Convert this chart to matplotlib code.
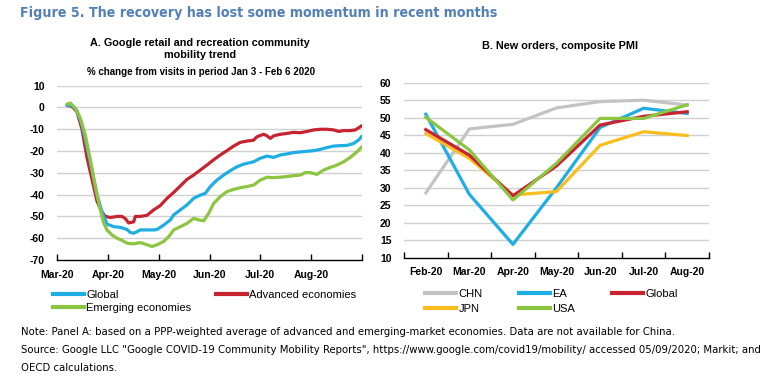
import matplotlib
matplotlib.use("Agg")
import matplotlib.pyplot as plt
from matplotlib.lines import Line2D

# ---------------- Panel A data (days since 1 March 2020) ----------------
adv_days = [6, 9, 12, 15, 18, 21, 24, 27, 29, 32, 36, 39, 41, 43, 46, 47, 50, 54, 58, 62,
            66, 70, 74, 78, 82, 86, 90, 94, 98, 102, 106, 110, 114, 118, 120, 124, 126, 128, 130, 134,
            138, 142, 146, 150, 154, 158, 162, 166, 169, 172, 176, 179, 182, 183]
adv_vals = [1, 0.5, -2, -10, -23, -33, -43, -48, -50, -50.5, -50, -50, -51, -53, -52.5, -50, -50, -49.5, -47, -45,
            -41.7, -39, -36, -33, -31, -28.7, -26.4, -24, -21.8, -19.8, -17.7, -16, -15.4, -15, -13.4, -12.3, -13, -14.2, -13, -12.3,
            -11.9, -11.4, -11.6, -11, -10.3, -10, -10, -10.3, -11, -10.6, -10.6, -10.3, -8.8, -8.3]

glob_days = [6, 9, 12, 15, 18, 21, 24, 27, 29, 30, 34, 38, 42, 44, 46, 48, 50, 54, 58, 60,
             64, 68, 70, 74, 78, 82, 86, 89, 92, 96, 100, 104, 108, 112, 118, 122, 126, 130, 134, 138,
             142, 146, 150, 154, 158, 162, 166, 170, 174, 178, 181, 183]
glob_vals = [1, 1, -1.5, -8, -18, -29, -40, -48, -51.6, -53.5, -54.7, -55, -56, -57.4, -57.7, -57, -56.2, -56.2, -56.2, -56,
             -54, -51.6, -49.3, -47, -44.7, -41.7, -40.2, -39.4, -36.3, -33.3, -31, -29, -27.2, -26, -24.9, -23.3, -22.3, -22.9, -21.8, -21.3,
             -20.7, -20.4, -20.1, -19.8, -19.2, -18.4, -17.7, -17.5, -17.4, -16.5, -14.9, -13.1]

emg_days = [6, 8, 11, 14, 17, 20, 23, 26, 28, 30, 33, 36, 39, 42, 46, 50, 54, 57, 60, 64,
            67, 70, 74, 78, 82, 85, 88, 91, 94, 98, 102, 106, 110, 114, 118, 122, 126, 130, 134, 138,
            142, 146, 149, 152, 156, 160, 164, 168, 172, 176, 180, 183]
emg_vals = [1.6, 2, -0.4, -5, -12.6, -24, -36.3, -47, -53, -56.2, -58.5, -60, -61, -62.3, -62.6, -62, -63, -63.8, -63, -61.5,
            -59.3, -56.2, -54.7, -53.2, -50.9, -51.6, -52, -48.6, -44, -40.9, -38.6, -37.6, -36.8, -36.3, -35.6, -33.3, -32, -32.2, -32, -31.7,
            -31.3, -31, -29.9, -29.9, -30.7, -28.7, -27.5, -26.4, -24.9, -22.9, -20.3, -18]

a_month_labels = ["Mar-20", "Apr-20", "May-20", "Jun-20", "Jul-20", "Aug-20"]
a_yticks = [10, 0, -10, -20, -30, -40, -50, -60, -70]

# ---------------- Panel B data ----------------
b_months = ["Feb-20", "Mar-20", "Apr-20", "May-20", "Jun-20", "Jul-20", "Aug-20"]
chn = [28.5, 46.8, 48.1, 52.8, 54.6, 55.0, 53.6]
ea = [51.0, 28.1, 13.8, 30.0, 47.2, 52.7, 51.2]
glb = [46.6, 39.3, 27.7, 36.2, 47.9, 50.4, 51.7]
jpn = [45.5, 38.4, 27.9, 28.9, 42.1, 46.0, 44.9]
usa = [50.1, 40.8, 26.5, 37.0, 49.8, 49.8, 53.7]
b_yticks = [10, 15, 20, 25, 30, 35, 40, 45, 50, 55, 60]

# ---------------- style ----------------
C_BLUE = "#1eaee4"
C_RED = "#c82330"
C_GREEN = "#8cc540"
C_GREY = "#c3c3c3"
C_YEL = "#f9be1d"
TITLE_C = "#5280b7"
SANS = ["Liberation Sans", "DejaVu Sans"]
plt.rcParams["font.family"] = SANS
LW = 2.3

W, H = 777, 382
fig = plt.figure(figsize=(W / 100, H / 100), dpi=100)


def fx(px):
    return px / W


def fy(py):
    return 1 - py / H


fig.text(fx(20), fy(12.5), "Figure 5. The recovery has lost some momentum in recent months",
         color=TITLE_C, fontsize=10.2, fontweight="bold", family=["DejaVu Sans"], fontstretch="condensed",
         va="center", ha="left")

# ---- Panel A ----
MONTH = 30.5
axA = fig.add_axes([fx(57), fy(260), fx(362) - fx(57), fy(85.7) - fy(260)])
axA.plot(glob_days, glob_vals, color=C_BLUE, lw=LW, solid_capstyle="round", zorder=3)
axA.plot(emg_days, emg_vals, color=C_GREEN, lw=LW, solid_capstyle="round", zorder=4)
axA.plot(adv_days, adv_vals, color=C_RED, lw=LW, solid_capstyle="round", zorder=2)
axA.set_xlim(0, 6 * MONTH)
axA.set_ylim(-70, 10)
axA.set_yticks(a_yticks)
axA.set_yticklabels([str(v) for v in a_yticks])
axA.set_xticks([i * MONTH for i in range(7)])
axA.set_xticklabels(a_month_labels + [""])
for v in a_yticks[:-1]:
    axA.axhline(v, color="#d0d0d0", lw=1.0, zorder=1)

fig.text(fx(200), fy(49), "A. Google retail and recreation community\nmobility trend",
         ha="center", va="center", fontsize=7.8, fontweight="bold", linespacing=1.25)
fig.text(fx(201), fy(72), "% change from visits in period Jan 3 - Feb 6 2020",
         ha="center", va="center", fontsize=7, fontweight="bold")

# ---- Panel B ----
axB = fig.add_axes([fx(404), fy(257.7), fx(709) - fx(404), fy(82.7) - fy(257.7)])
xb = list(range(len(b_months)))
axB.plot(xb, chn, color=C_GREY, lw=LW, zorder=2)
axB.plot(xb, ea, color=C_BLUE, lw=LW, zorder=3)
axB.plot(xb, jpn, color=C_YEL, lw=LW, zorder=4)
axB.plot(xb, glb, color=C_RED, lw=LW, zorder=5)
axB.plot(xb, usa, color=C_GREEN, lw=LW, zorder=6)
axB.set_xlim(-0.5, len(b_months) - 0.5)
axB.set_ylim(10, 60)
axB.set_yticks(b_yticks)
axB.set_xticks(xb)
axB.set_xticklabels(b_months)
axB.set_xticks([i - 0.5 for i in range(len(b_months) + 1)], minor=True)
for v in b_yticks[1:]:
    axB.axhline(v, color="#d0d0d0", lw=1.0, zorder=1)
fig.text(fx(560), fy(46), "B. New orders, composite PMI", ha="center", va="center",
         fontsize=7.8, fontweight="bold")

for ax in (axA, axB):
    for s in ("left", "right", "top"):
        ax.spines[s].set_visible(False)
    ax.spines["bottom"].set_color("black")
    ax.spines["bottom"].set_linewidth(1.0)
    ax.tick_params(axis="y", length=0, pad=9, labelsize=7.5)
    ax.tick_params(axis="x", labelsize=7.5, pad=7)
    for lab in ax.get_xticklabels() + ax.get_yticklabels():
        lab.set_fontweight("bold")
    ax.set_facecolor("none")

axA.tick_params(axis="x", direction="in", length=4, width=1)
axB.tick_params(axis="x", which="major", length=0)
axB.tick_params(axis="x", which="minor", direction="in", length=4, width=1)

# ---- Legends ----
def h(c):
    return Line2D([0], [0], color=c, lw=3)

fig.legend([h(C_BLUE), h(C_GREEN), h(C_RED)], ["Global", "Emerging economies", "Advanced economies"],
           ncol=2, loc="upper left", bbox_to_anchor=(fx(53), fy(290)), frameon=False,
           fontsize=8, handlelength=2.8, handletextpad=0.2, columnspacing=2.2,
           labelspacing=0.3, borderpad=0, borderaxespad=0)
fig.legend([h(C_GREY), h(C_YEL), h(C_BLUE), h(C_GREEN), h(C_RED)], ["CHN", "JPN", "EA", "USA", "Global"],
           ncol=3, loc="upper left", bbox_to_anchor=(fx(425), fy(289)), frameon=False,
           fontsize=8, handlelength=2.8, handletextpad=0.2, columnspacing=3.3,
           labelspacing=0.45, borderpad=0, borderaxespad=0)

# ---- Footnote ----
notes = [
    "Note: Panel A: based on a PPP-weighted average of advanced and emerging-market economies. Data are not available for China.",
    "Source: Google LLC \"Google COVID-19 Community Mobility Reports\", https://www.google.com/covid19/mobility/ accessed 05/09/2020; Markit; and",
    "OECD calculations.",
]
for i, t in enumerate(notes):
    fig.text(fx(21), fy(332 + 18 * i), t, fontsize=8.1, family=["DejaVu Sans"], fontstretch="condensed",
             va="center", ha="left")

fig.savefig("out.png", dpi=100, facecolor="white")
